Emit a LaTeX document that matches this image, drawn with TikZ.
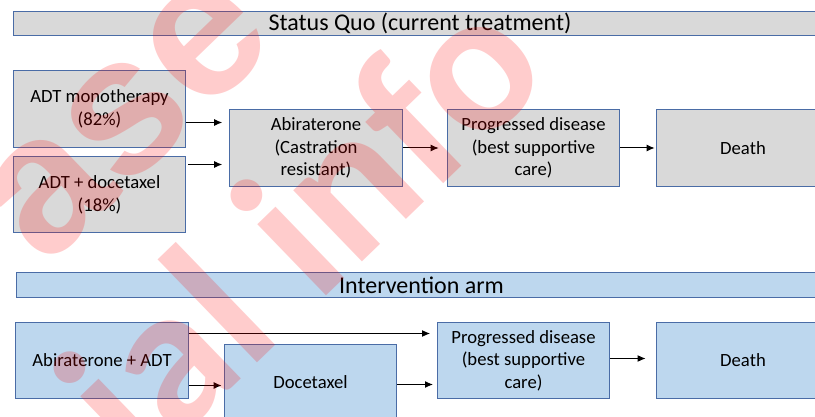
\documentclass[tikz,border=0pt]{standalone}
\usepackage{fontspec}
\setmainfont{Carlito}
\newfontfamily\wmfamily{Liberation Sans}
\newfontfamily\wmnarrow{Carlito}
\usetikzlibrary{arrows.meta}
\definecolor{grayfill}{HTML}{D9D9D9}
\definecolor{bluefill}{HTML}{BDD7EE}
\definecolor{edgeblue}{HTML}{4A6CA6}
\begin{document}
\begin{tikzpicture}[x=0.75pt,y=-0.75pt,
  box/.style={draw=edgeblue, line width=0.75pt, align=center, inner sep=0pt, text=black,
    font=\fontsize{14}{17}\selectfont, minimum width=129.4pt, minimum height=57.4pt},
  greybox/.style={box, fill=grayfill},
  bluebox/.style={box, fill=bluefill},
  titlebar/.style={font=\fontsize{18}{22}\selectfont, minimum height=18.5pt},
  arr/.style={-{Latex[length=6pt,width=5.2pt]}, line width=0.75pt, black},
  wm/.style={rotate=44, inner sep=0pt, text=red, text opacity=0.2,
    font=\wmfamily\bfseries\fontsize{147}{147}\selectfont},
  wmtwo/.style={wm, font=\wmnarrow\bfseries\fontsize{153}{153}\selectfont}]
\useasboundingbox (0,0) rectangle (815,417);
\clip (0,0) rectangle (815,417);
\fill[white] (0,0) rectangle (815,417);
% status quo
\node[greybox, titlebar, minimum width=610.5pt] (t1) at (420,23.5) {Status Quo (current treatment)};
\node[greybox] (mono) at (99.5,109) {ADT monotherapy\\(82\%)};
\node[greybox] (adtd) at (99.5,194.5) {ADT + docetaxel\\(18\%)};
\node[greybox] (abi) at (316,148) {Abiraterone\\(Castration\\resistant)};
\node[greybox] (prog1) at (533.5,148) {Progressed disease\\(best supportive\\care)};
\node[greybox] (death1) at (743,148) {Death};
\coordinate (la) at (0,122.5);
\coordinate (lb) at (0,164.5);
\draw[arr, shorten >=5.25pt] (mono.east |- la) -- (abi.west |- la);
\draw[arr, shorten >=5.25pt, shorten <=1.5pt] (adtd.east |- lb) -- (abi.west |- lb);
\draw[arr, shorten >=6pt] (abi.east) -- (prog1.west);
\draw[arr, shorten >=1.2pt] (prog1.east) -- (death1.west);
% intervention
\node[bluebox, titlebar, minimum width=608.25pt] (t2) at (421.5,285) {Intervention arm};
\node[bluebox] (aadt) at (102,360.5) {Abiraterone + ADT};
\node[bluebox] (doc) at (310.5,382.5) {Docetaxel};
\node[bluebox] (prog2) at (523.5,360.5) {Progressed disease\\(best supportive\\care)};
\node[bluebox] (death2) at (743,360.5) {Death};
\coordinate (lc) at (0,333.5);
\coordinate (ld) at (0,385.5);
\coordinate (le) at (0,384.5);
\coordinate (lf) at (0,358.5);
\draw[arr, shorten >=5pt] (aadt.east |- lc) -- (prog2.west |- lc);
\draw[arr, shorten >=1.6pt] (aadt.east |- ld) -- (doc.west |- ld);
\draw[arr, shorten >=2.8pt] (doc.east |- le) -- (prog2.west |- le);
\draw[arr, shorten >=8pt] (prog2.east |- lf) -- (death2.west |- lf);
% watermark
\node[wm, anchor=center] (wm1) at (127,118) {ase};
\node[wmtwo, anchor=base east] (wm2) at (555,76) {ial info};
\end{tikzpicture}
\end{document}
